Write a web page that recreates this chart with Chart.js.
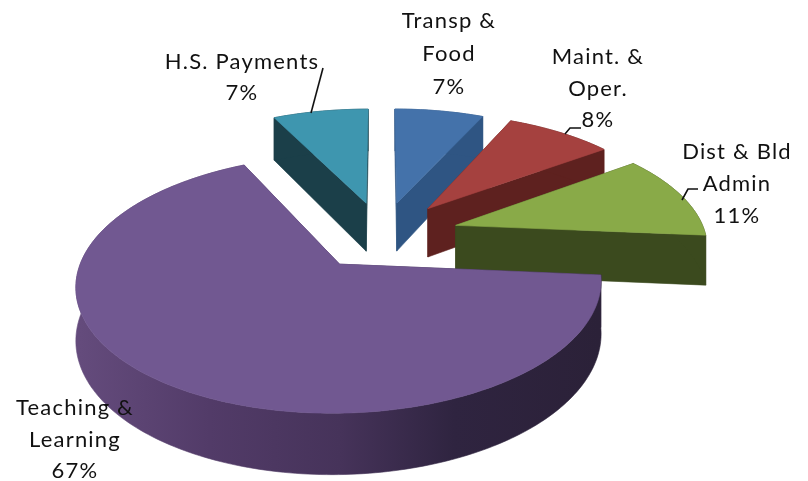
<!DOCTYPE html>
<html>
<head>
<meta charset="utf-8">
<style>html,body{margin:0;padding:0;background:#fff}#wrap{width:808px;height:481px}</style>
<script src="https://cdn.jsdelivr.net/npm/chart.js@4"></script>
</head>
<body>
<div id="wrap"><canvas id="c" width="808" height="481"></canvas></div>
<script>
const categories = ['Transp & Food', 'Maint. & Oper.', 'Dist & Bld Admin', 'Teaching & Learning', 'H.S. Payments'];
const shares = [6.8, 8.2, 11.4, 66.5, 7.3];
const percentLabels = ['7%', '8%', '11%', '67%', '7%'];
const topColors = ['#4472AA', '#A5413F', '#89AA48', '#715891', '#3E96AF'];
const wallColors = ['#2F5583', '#5E211F', '#3B4A1E', '#4A3559', '#1B3F49'];
const paintOrder = [4, 0, 1, 2, 3];

const view = {cx: 382, cy: 235, W: 250, H: 117, p: 0.15, depth: 50};
const labelLayout = [
  {x: 449, y: [21, 54, 87], text: ['Transp &', 'Food']},
  {x: 598, y: [57, 89, 120], text: ['Maint. &', 'Oper.']},
  {x: 737, y: [152, 184, 216], text: ['Dist & Bld', 'Admin']},
  {x: 75, y: [408, 440, 471], text: ['Teaching &', 'Learning']},
  {x: 242, y: [62, 93], text: ['H.S. Payments']}
];
const leaders = [
  [[323, 68], [311, 113]],
  [[565, 134], [570, 128], [581, 128]],
  [[682, 200], [688, 189], [698, 189]]
];

function project(X, Y, z) {
  const s = 1 / (1 - view.p * Y);
  return [view.cx + X * s * view.W, view.cy + Y * s * view.H + z * view.depth * s];
}
function poly(ctx, pts, fill) {
  ctx.beginPath();
  pts.forEach((q, i) => i ? ctx.lineTo(q[0], q[1]) : ctx.moveTo(q[0], q[1]));
  ctx.closePath();
  ctx.fillStyle = fill;
  ctx.strokeStyle = fill;
  ctx.lineWidth = 0.6;
  ctx.fill();
  ctx.stroke();
}

const pie3d = {
  id: 'pie3d',
  beforeDatasetsDraw(chart) {
    const ctx = chart.ctx;
    const arcs = chart.getDatasetMeta(0).data;
    const purpleWall = ctx.createLinearGradient(80, 0, 600, 0);
    purpleWall.addColorStop(0, '#644B7C');
    purpleWall.addColorStop(0.25, '#523B68');
    purpleWall.addColorStop(0.5, '#46335A');
    purpleWall.addColorStop(0.72, '#2F2440');
    purpleWall.addColorStop(1, '#2B2138');
    paintOrder.forEach(i => {
      const a = arcs[i];
      const R = a.outerRadius;
      const mid = (a.startAngle + a.endAngle) / 2;
      const off = a.options.offset / R;
      const ox = Math.cos(mid) * off, oy = Math.sin(mid) * off;
      const n = Math.max(4, Math.round((a.endAngle - a.startAngle) / 0.02));
      const rim = [];
      for (let k = 0; k <= n; k++) {
        const t = a.startAngle + (a.endAngle - a.startAngle) * k / n;
        rim.push([ox + Math.cos(t), oy + Math.sin(t)]);
      }
      const tip = [ox, oy];
      const wall = i === 3 ? purpleWall : wallColors[i];
      const edge = (u, v) => poly(ctx, [project(u[0], u[1], 0), project(v[0], v[1], 0), project(v[0], v[1], 1), project(u[0], u[1], 1)], wall);
      edge(tip, rim[0]);
      edge(tip, rim[n]);
      const up = rim.map(q => project(q[0], q[1], 0));
      const down = rim.map(q => project(q[0], q[1], 1)).reverse();
      poly(ctx, up.concat(down), wall);
      poly(ctx, [tip].concat(rim).map(q => project(q[0], q[1], 0)), topColors[i]);
    });
    return false;
  },
  afterDraw(chart) {
    const ctx = chart.ctx;
    ctx.save();
    ctx.strokeStyle = '#111';
    ctx.lineWidth = 1.6;
    leaders.forEach(l => {
      ctx.beginPath();
      l.forEach((q, i) => i ? ctx.lineTo(q[0], q[1]) : ctx.moveTo(q[0], q[1]));
      ctx.stroke();
    });
    ctx.fillStyle = '#111';
    ctx.font = '22px Lato, "Open Sans", sans-serif';
    ctx.letterSpacing = '1.2px';
    ctx.textAlign = 'center';
    ctx.textBaseline = 'middle';
    labelLayout.forEach((l, i) => {
      l.text.concat(percentLabels[i]).forEach((t, j) => ctx.fillText(t, l.x, l.y[j]));
    });
    ctx.restore();
  }
};

new Chart(document.getElementById('c'), {
  type: 'pie',
  data: {
    labels: categories,
    datasets: [{data: shares, backgroundColor: topColors, borderWidth: 0, offset: [60.5, 62.5, 64.5, 60.5, 60.5]}]
  },
  options: {
    responsive: false,
    animation: false,
    events: [],
    layout: {padding: 0},
    plugins: {legend: {display: false}, tooltip: {enabled: false}, title: {display: false}}
  },
  plugins: [pie3d]
});
</script>
</body>
</html>
